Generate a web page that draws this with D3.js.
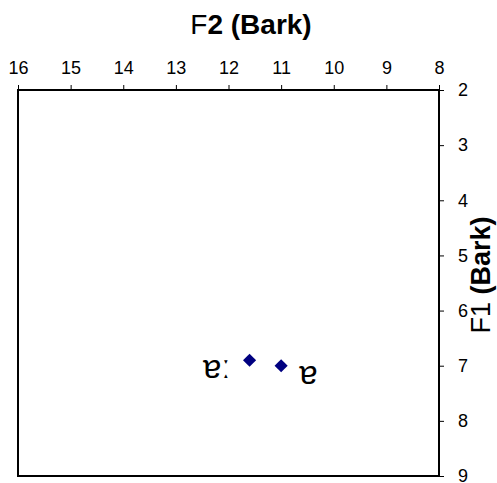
<!DOCTYPE html>
<html>
<head>
<meta charset="utf-8">
<script src="https://cdn.jsdelivr.net/npm/d3@7"></script>
<style>
  body { margin: 0; background: #fff; }
  svg { display: block; font-family: Arial, "Liberation Sans", sans-serif; }
</style>
</head>
<body>
<div id="chart"></div>
<script>
// vowel points: F2 and F1 in Bark
const vowels = ["ɐː", "ɐ"];
const f2Values = [11.6, 11.0];
const f1Values = [6.9, 7.0];
const xTicks = [16, 15, 14, 13, 12, 11, 10, 9, 8];
const yTicks = [2, 3, 4, 5, 6, 7, 8, 9];

const width = 497;
const height = 483;
const margin = { top: 90, right: 58, bottom: 7, left: 18 };

const svg = d3
  .select("#chart")
  .append("svg")
  .attr("width", width)
  .attr("height", height);

// reversed F2 axis on top, F1 growing downwards on the right
const x = d3.scaleLinear().domain([16, 8]).range([margin.left, width - margin.right]);
const y = d3.scaleLinear().domain([2, 9]).range([margin.top, height - margin.bottom]);

const xAxis = svg
  .append("g")
  .attr("transform", `translate(0, ${margin.top})`)
  .call(d3.axisTop(x).tickValues(xTicks).tickSize(5).tickPadding(11).tickFormat(d3.format("d")));

const yAxis = svg
  .append("g")
  .attr("transform", `translate(${width - margin.right}, 0)`)
  .call(d3.axisRight(y).tickValues(yTicks).tickSize(5).tickPadding(14).tickFormat(d3.format("d")));

[xAxis, yAxis].forEach(function (g) {
  g.select(".domain").remove();
  g.selectAll("line").attr("stroke", "#000");
  g.selectAll("text")
    .attr("fill", "#000")
    .style("font-size", "18px")
    .style("font-family", "Arial, 'Liberation Sans', sans-serif");
});

// plot frame
svg
  .append("rect")
  .attr("x", x(16))
  .attr("y", y(2))
  .attr("width", x(8) - x(16))
  .attr("height", y(9) - y(2))
  .attr("fill", "none")
  .attr("stroke", "#000")
  .attr("stroke-width", 2);

// points
const diamond = d3.symbol().type(d3.symbolDiamond2).size(110);
svg
  .selectAll("path.pt")
  .data(vowels)
  .join("path")
  .attr("class", "pt")
  .attr("transform", (d, i) => `translate(${x(f2Values[i])}, ${y(f1Values[i])})`)
  .attr("d", diamond)
  .attr("fill", "#000080");

// vowel labels
svg
  .selectAll("text.lbl")
  .data(vowels)
  .join("text")
  .attr("class", "lbl")
  .attr("x", (d, i) => x(f2Values[i]) + (i == 0 ? -19 : 18))
  .attr("y", (d, i) => y(f1Values[i]) + 18)
  .attr("text-anchor", (d, i) => (i == 0 ? "end" : "start"))
  .style("font-size", "33px")
  .text((d) => d);

// axis titles
const title = svg
  .append("text")
  .attr("x", 251)
  .attr("y", 34)
  .attr("text-anchor", "middle")
  .style("font-size", "28px");
title.append("tspan").text("F");
title.append("tspan").attr("font-weight", "bold").text("2 (Bark)");

const yTitle = svg
  .append("text")
  .attr("transform", `translate(490, 275) rotate(-90)`)
  .attr("text-anchor", "middle")
  .style("font-size", "27px");
yTitle.append("tspan").text("F1 ");
yTitle.append("tspan").attr("font-weight", "bold").text("(Bark)");
</script>
</body>
</html>
